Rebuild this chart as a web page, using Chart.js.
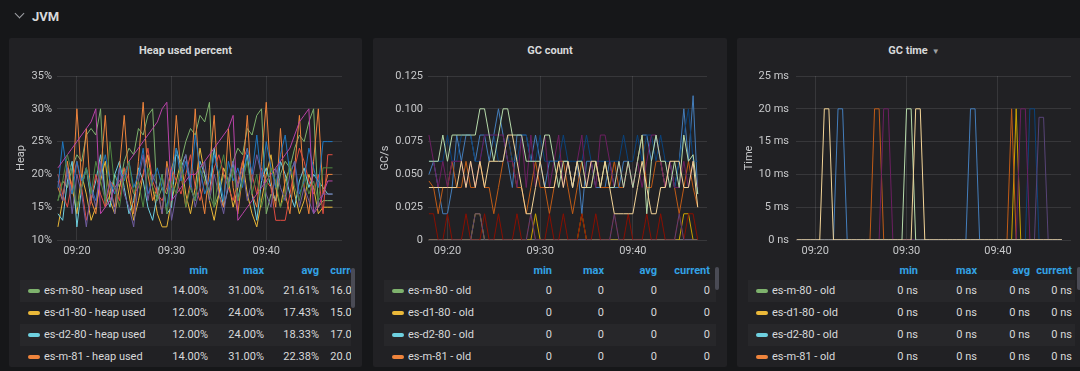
<!DOCTYPE html>
<html>
<head>
<meta charset="utf-8">
<script src="https://cdn.jsdelivr.net/npm/chart.js@4.4.1/dist/chart.umd.min.js"></script>
<style>
  body { margin: 0; width: 1080px; height: 371px; background: #161719; font-family: Roboto, sans-serif; color: #d8d9da; overflow: hidden; position: relative; }
  .chev { position: absolute; left: 16px; top: 10px; width: 6px; height: 6px; border-right: 1.5px solid #9fa1a5; border-bottom: 1.5px solid #9fa1a5; transform: rotate(45deg); }
  .row-title { position: absolute; left: 32px; top: 7px; font-size: 13px; font-weight: bold; line-height: 20px; }
  .panel { position: absolute; top: 38px; height: 329px; background: #212124; overflow: hidden; border-radius: 2px; }
  .ptitle { position: absolute; left: 0; right: 0; top: 1px; text-align: center; font-size: 11px; font-weight: bold; line-height: 24px; }
  .caret { font-size: 8px; color: #9fa1a5; margin-left: 4px; }
  .plot { position: absolute; left: 0; top: 24px; }
  .leg { position: absolute; left: 11px; top: 224px; height: 105px; overflow: hidden; }
  .lrow { position: absolute; left: 0; width: 100%; height: 22px; line-height: 22px; font-size: 11px; }
  .lrow.odd { background: #27272a; }
  .lhead { color: #33a2e5; font-weight: bold; height: 18px; line-height: 18px; }
  .cell { position: absolute; top: 0; left: 0; text-align: right; white-space: nowrap; }
  .sw { position: absolute; left: 8px; top: 9px; width: 12px; height: 4px; border-radius: 2px; }
  .name { position: absolute; left: 24px; top: 0; white-space: nowrap; }
  .sb { position: absolute; width: 4px; border-radius: 2px; background: #4a4b55; }
</style>
</head>
<body>
<div class="chev"></div>
<div class="row-title">JVM</div>

<div class="panel" style="left:9px;width:353px">
  <div class="ptitle">Heap used percent</div>
  <div class="plot"><canvas id="heapChart" width="353" height="200"></canvas></div>
  <div class="leg" id="heapLegend" style="width:331px"></div>
  <div class="sb" style="left:342px;top:230px;height:40px"></div>
</div>

<div class="panel" style="left:373px;width:354px">
  <div class="ptitle">GC count</div>
  <div class="plot"><canvas id="gcCountChart" width="354" height="200"></canvas></div>
  <div class="leg" id="gcCountLegend" style="width:332px"></div>
  <div class="sb" style="left:342px;top:229px;height:23px"></div>
</div>

<div class="panel" style="left:737px;width:354px">
  <div class="ptitle">GC time<span class="caret">&#9660;</span></div>
  <div class="plot"><canvas id="gcTimeChart" width="354" height="200"></canvas></div>
  <div class="leg" id="gcTimeLegend" style="width:327px"></div>
  <div class="sb" style="left:340px;top:229px;height:23px"></div>
</div>

<script>
// 시간축 (09:00 이후 분, 30초 간격)
const times = [
  18, 18.5, 19, 19.5, 20, 20.5, 21, 21.5, 22, 22.5,
  23, 23.5, 24, 24.5, 25, 25.5, 26, 26.5, 27, 27.5,
  28, 28.5, 29, 29.5, 30, 30.5, 31, 31.5, 32, 32.5,
  33, 33.5, 34, 34.5, 35, 35.5, 36, 36.5, 37, 37.5,
  38, 38.5, 39, 39.5, 40, 40.5, 41, 41.5, 42, 42.5,
  43, 43.5, 44, 44.5, 45, 45.5, 46, 46.5, 47
];
const xTickValues = [20, 30, 40];
const xTickLabels = ['09:20', '09:30', '09:40'];

// Heap used percent
const heapM80 = [
  16, 19, 18, 21, 23, 22, 26, 27, 26, 30,
  15, 17, 20, 18, 22, 24, 23, 27, 26, 29,
  30, 16, 18, 17, 21, 23, 22, 25, 27, 26,
  29, 28, 31, 15, 17, 20, 19, 22, 24, 23,
  27, 26, 29, 30, 14, 17, 16, 20, 22, 21,
  24, 26, 25, 28, 30, 15, 16, 16, 16
];
const heapD180 = [
  12, 16, 21, 18, 14, 20, 17, 13, 15, 19,
  22, 16, 14, 18, 21, 17, 13, 16, 20, 23,
  18, 14, 12, 12, 16, 19, 22, 17, 14, 18,
  24, 20, 16, 13, 17, 21, 19, 15, 18, 22,
  17, 14, 12, 16, 20, 23, 18, 15, 19, 21,
  17, 14, 16, 20, 18, 14, 15, 15, 15
];
const heapD280 = [
  14, 13, 19, 22, 12, 18, 21, 16, 19, 23,
  17, 15, 20, 22, 18, 14, 16, 21, 19, 15,
  13, 17, 20, 14, 15, 24, 21, 23, 18, 16,
  22, 20, 17, 24, 19, 15, 18, 22, 16, 20,
  23, 17, 13, 19, 21, 18, 16, 22, 20, 17,
  15, 19, 21, 18, 20, 19, 18, 17, 17
];
const heapM81 = [
  18, 16, 22, 17, 30, 19, 27, 16, 14, 20,
  29, 18, 15, 21, 29, 19, 14, 22, 31, 20,
  16, 18, 14, 22, 18, 29, 20, 15, 19, 30,
  18, 14, 21, 29, 17, 15, 27, 18, 14, 20,
  29, 17, 15, 22, 31, 19, 15, 27, 17, 14,
  21, 29, 18, 14, 22, 30, 17, 20, 20
];
const heapD181 = [
  20, 17, 15, 19, 22, 18, 13, 16, 20, 17,
  15, 19, 18, 16, 21, 19, 17, 18, 20, 24,
  19, 17, 16, 18, 21, 19, 17, 20, 23, 18,
  16, 19, 17, 21, 23, 20, 18, 16, 19, 22,
  24, 20, 17, 21, 19, 18, 13, 13, 13, 17,
  21, 24, 22, 19, 17, 20, 14, 23, 23
];
const heapD281 = [
  18, 25, 20, 17, 22, 19, 21, 18, 16, 20,
  23, 19, 17, 21, 19, 22, 18, 20, 24, 17,
  19, 21, 18, 15, 20, 24, 19, 22, 18, 26,
  21, 17, 19, 23, 20, 16, 22, 19, 21, 18,
  24, 20, 26, 19, 25, 21, 18, 23, 26, 20,
  22, 17, 19, 24, 21, 18, 25, 25, 25
];
const heapM82 = [
  21, 22, 23, 24, 25, 26, 27, 28, 30, 14,
  15, 16, 18, 19, 20, 22, 23, 24, 25, 26,
  27, 28, 30, 31, 16, 17, 18, 19, 20, 20,
  21, 22, 23, 24, 25, 26, 27, 29, 13, 14,
  15, 16, 17, 18, 19, 20, 21, 22, 23, 24,
  26, 28, 29, 30, 14, 15, 17, 19, 19
];
const heapD182 = [
  19, 16, 21, 14, 20, 17, 12, 18, 15, 22,
  16, 19, 14, 21, 17, 15, 12, 19, 23, 16,
  20, 18, 14, 21, 13, 17, 20, 23, 19, 15,
  18, 22, 16, 20, 17, 14, 19, 22, 18, 21,
  16, 19, 23, 20, 17, 15, 21, 18, 16, 20,
  22, 15, 18, 16, 14, 16, 17, 17, 17
];
const heapD282 = [
  16, 19, 23, 20, 15, 18, 21, 17, 22, 19,
  16, 25, 18, 15, 20, 22, 17, 19, 15, 21,
  18, 16, 20, 14, 19, 17, 22, 15, 18, 16,
  21, 19, 17, 15, 20, 23, 18, 21, 16, 19,
  22, 17, 20, 15, 18, 21, 19, 15, 17, 22,
  18, 16, 20, 17, 19, 16, 21, 21, 21
];
const heapTickValues = [10, 15, 20, 25, 30, 35];
const heapTickLabels = ['10%', '15%', '20%', '25%', '30%', '35%'];

// old 세대는 전 구간 0
const oldZero = [
  0, 0, 0, 0, 0, 0, 0, 0, 0, 0,
  0, 0, 0, 0, 0, 0, 0, 0, 0, 0,
  0, 0, 0, 0, 0, 0, 0, 0, 0, 0,
  0, 0, 0, 0, 0, 0, 0, 0, 0, 0,
  0, 0, 0, 0, 0, 0, 0, 0, 0, 0,
  0, 0, 0, 0, 0, 0, 0, 0, 0
];

// GC count (GC/s), young
const countM80 = [
  0, 0, 0, 0, 0, 0, 0, 0, 0, 0,
  0.02, 0.02, 0, 0, 0, 0, 0, 0, 0, 0,
  0, 0, 0, 0.02, 0, 0, 0, 0, 0, 0,
  0, 0, 0, 0.02, 0, 0, 0, 0, 0, 0,
  0, 0, 0, 0, 0, 0, 0, 0, 0, 0,
  0, 0, 0, 0, 0, 0.02, 0.02, 0, 0
];
const countD180 = [
  0.05, 0.06, 0.04, 0.02, 0.02, 0.04, 0.08, 0.06, 0.08, 0.08,
  0.06, 0.08, 0.08, 0.06, 0.08, 0.1, 0.08, 0.06, 0.04, 0.08,
  0.08, 0.08, 0.06, 0.08, 0.06, 0.04, 0.06, 0.06, 0.06, 0.06,
  0.06, 0.04, 0.06, 0.02, 0.06, 0.06, 0.04, 0.04, 0.04, 0.06,
  0.04, 0.04, 0.06, 0.06, 0.04, 0.06, 0.08, 0.08, 0.06, 0.08,
  0.06, 0.04, 0.06, 0.04, 0.06, 0.1, 0.06, 0.11, 0.035
];
const countD280 = [
  0.045, 0.04, 0.02, 0.04, 0.04, 0.06, 0.04, 0.04, 0.06, 0.04,
  0.04, 0.06, 0.04, 0.04, 0.02, 0.04, 0.06, 0.08, 0.06, 0.04,
  0.04, 0.02, 0.04, 0.06, 0.04, 0.04, 0.02, 0.04, 0.06, 0.06,
  0.04, 0.02, 0.04, 0.06, 0.04, 0.04, 0.06, 0.04, 0.04, 0.04,
  0.06, 0.04, 0.04, 0.06, 0.04, 0.06, 0.08, 0.04, 0.04, 0.06,
  0.06, 0.04, 0.06, 0.04, 0.02, 0.04, 0.06, 0.04, 0.025
];
const countM81 = [
  0.02, 0.02, 0, 0, 0.02, 0, 0, 0, 0.02, 0,
  0, 0, 0.02, 0, 0, 0.02, 0, 0, 0, 0.02,
  0, 0, 0.02, 0, 0, 0, 0.02, 0, 0, 0.02,
  0, 0, 0, 0.02, 0, 0, 0.02, 0, 0, 0,
  0.02, 0, 0, 0.02, 0, 0, 0, 0.02, 0, 0,
  0.02, 0, 0, 0, 0.02, 0, 0.02, 0.02, 0
];
const countD181 = [
  0.06, 0.06, 0.06, 0.06, 0.08, 0.06, 0.06, 0.08, 0.08, 0.08,
  0.06, 0.06, 0.08, 0.08, 0.08, 0.06, 0.06, 0.08, 0.06, 0.06,
  0.08, 0.08, 0.06, 0.06, 0.08, 0.06, 0.06, 0.06, 0.06, 0.08,
  0.06, 0.06, 0.06, 0.06, 0.08, 0.06, 0.06, 0.06, 0.06, 0.06,
  0.06, 0.06, 0.08, 0.06, 0.06, 0.08, 0.06, 0.08, 0.08, 0.06,
  0.08, 0.06, 0.06, 0.04, 0.06, 0.08, 0.1, 0.06, 0.06
];
const countD281 = [
  0.08, 0.06, 0.04, 0.06, 0.04, 0.06, 0.06, 0.06, 0.04, 0.06,
  0.04, 0.06, 0.08, 0.08, 0.08, 0.08, 0.08, 0.06, 0.06, 0.04,
  0.08, 0.04, 0.08, 0.04, 0.06, 0.08, 0.04, 0.06, 0.08, 0.04,
  0.06, 0.04, 0.06, 0.08, 0.04, 0.06, 0.04, 0.08, 0.08, 0.06,
  0.04, 0.06, 0.04, 0.06, 0.04, 0.06, 0.04, 0.06, 0.08, 0.08,
  0.06, 0.04, 0.06, 0.04, 0.04, 0.06, 0.04, 0.06, 0.04
];
const countM82 = [
  0, 0, 0, 0, 0, 0, 0, 0, 0, 0,
  0.02, 0.02, 0, 0, 0, 0, 0, 0, 0, 0,
  0, 0, 0.02, 0, 0, 0, 0, 0, 0, 0,
  0, 0, 0, 0, 0, 0, 0, 0, 0, 0,
  0.02, 0, 0, 0, 0, 0, 0, 0, 0, 0,
  0, 0, 0, 0, 0.02, 0, 0, 0, 0
];
const countD182 = [
  0.06, 0.06, 0.06, 0.08, 0.06, 0.08, 0.08, 0.08, 0.08, 0.08,
  0.08, 0.1, 0.1, 0.08, 0.06, 0.08, 0.1, 0.1, 0.08, 0.08,
  0.08, 0.06, 0.06, 0.06, 0.06, 0.08, 0.08, 0.06, 0.04, 0.06,
  0.06, 0.04, 0.06, 0.06, 0.04, 0.04, 0.06, 0.04, 0.06, 0.04,
  0.04, 0.06, 0.04, 0.06, 0.04, 0.06, 0.08, 0.02, 0.06, 0.08,
  0.06, 0.06, 0.04, 0.06, 0.04, 0.08, 0.06, 0.065, 0.035
];
const countD282 = [
  0.04, 0.04, 0.04, 0.04, 0.04, 0.04, 0.04, 0.06, 0.04, 0.06,
  0.04, 0.06, 0.04, 0.06, 0.06, 0.06, 0.06, 0.08, 0.08, 0.06,
  0.04, 0.02, 0.02, 0.04, 0.06, 0.04, 0.04, 0.04, 0.06, 0.04,
  0.06, 0.04, 0.06, 0.04, 0.04, 0.06, 0.06, 0.04, 0.06, 0.04,
  0.02, 0.02, 0.02, 0.02, 0.02, 0.04, 0.06, 0.04, 0.02, 0.02,
  0.04, 0.04, 0.06, 0.06, 0.06, 0.04, 0.04, 0.06, 0.025
];
const countTickValues = [0, 0.025, 0.05, 0.075, 0.1, 0.125];
const countTickLabels = ['0', '0.025', '0.050', '0.075', '0.100', '0.125'];

// GC time (ms), young
const timeM80 = [
  0, 0, 0, 0, 0, 0, 0, 0, 0, 0,
  0, 0, 0, 0, 0, 0, 0, 0, 0, 0,
  0, 0, 0, 0, 0, 0, 0, 0, 0, 0,
  0, 0, 0, 0, 0, 0, 0, 0, 0, 0,
  0, 0, 0, 0, 0, 0, 0, 0, 20, 0,
  0, 0, 0, 0, 0, 0, 0, 0, 0
];
const timeD180 = [
  0, 0, 0, 0, 0, 0, 0, 0, 0, 20,
  20, 0, 0, 0, 0, 0, 0, 0, 0, 0,
  0, 0, 0, 0, 0, 0, 0, 0, 0, 0,
  0, 0, 0, 0, 0, 0, 0, 0, 20, 20,
  0, 0, 0, 0, 0, 0, 0, 0, 0, 0,
  0, 0, 0, 0, 0, 0, 0, 0, 0
];
const timeD280 = [
  0, 0, 0, 0, 0, 0, 0, 0, 0, 0,
  0, 0, 0, 0, 0, 0, 0, 20, 20, 0,
  0, 0, 0, 0, 0, 0, 0, 0, 0, 0,
  0, 0, 0, 0, 0, 0, 0, 0, 0, 0,
  0, 0, 0, 0, 0, 0, 0, 20, 0, 0,
  0, 0, 0, 0, 0, 0, 0, 0, 0
];
const timeM81 = oldZero;
const timeD181 = [
  0, 0, 0, 0, 0, 0, 0, 0, 0, 0,
  0, 0, 0, 0, 0, 0, 0, 0, 0, 0,
  0, 0, 0, 0, 0, 0, 0, 0, 0, 0,
  0, 0, 0, 0, 0, 0, 0, 0, 0, 0,
  0, 0, 0, 0, 0, 0, 0, 0, 0, 0,
  0, 20, 20, 0, 0, 0, 0, 0, 0
];
const timeD281 = [
  0, 0, 0, 0, 0, 0, 0, 0, 0, 0,
  0, 0, 0, 0, 0, 0, 0, 0, 0, 20,
  20, 0, 0, 0, 0, 0, 0, 0, 0, 0,
  0, 0, 0, 0, 0, 0, 0, 0, 0, 0,
  0, 0, 0, 0, 0, 0, 0, 0, 0, 20,
  20, 0, 0, 0, 0, 0, 0, 0, 0
];
const timeM82 = [
  0, 0, 0, 0, 0, 0, 0, 0, 0, 0,
  0, 0, 0, 0, 0, 0, 0, 0, 0, 0,
  0, 0, 0, 0, 0, 0, 0, 0, 0, 0,
  0, 0, 0, 0, 0, 0, 0, 0, 0, 0,
  0, 0, 0, 0, 0, 0, 0, 0, 0, 0,
  0, 0, 0, 18.7, 18.7, 0, 0, 0, 0
];
const timeD182 = [
  0, 0, 0, 0, 0, 0, 0, 0, 0, 0,
  0, 0, 0, 0, 0, 0, 0, 0, 0, 0,
  0, 0, 0, 0, 20, 20, 0, 0, 0, 0,
  0, 0, 0, 0, 0, 0, 0, 0, 0, 0,
  0, 0, 0, 0, 0, 0, 0, 0, 0, 0,
  0, 0, 0, 0, 0, 0, 0, 0, 0
];
const timeD282 = [
  0, 0, 0, 0, 0, 0, 20, 20, 0, 0,
  0, 0, 0, 0, 0, 0, 0, 0, 0, 0,
  0, 0, 0, 0, 0, 0, 20, 20, 0, 0,
  0, 0, 0, 0, 0, 0, 0, 0, 0, 0,
  0, 0, 0, 0, 0, 0, 0, 0, 0, 0,
  0, 0, 0, 0, 0, 0, 0, 0, 0
];
const timeTickValues = [0, 5, 10, 15, 20, 25];
const timeTickLabels = ['0 ns', '5 ms', '10 ms', '15 ms', '20 ms', '25 ms'];

// 범례 테이블 (보이는 4행)
const legendNodes = ['es-m-80', 'es-d1-80', 'es-d2-80', 'es-m-81'];
const heapMin = ['14.00%', '12.00%', '12.00%', '14.00%'];
const heapMax = ['31.00%', '24.00%', '24.00%', '31.00%'];
const heapAvg = ['21.61%', '17.43%', '18.33%', '22.38%'];
const heapCur = ['16.00%', '15.00%', '17.00%', '20.00%'];
const countStat = ['0', '0', '0', '0'];
const timeStat = ['0 ns', '0 ns', '0 ns', '0 ns'];

// Grafana 기본 팔레트
const palette = ['#7EB26D', '#EAB839', '#6ED0E0', '#EF843C', '#E24D42', '#1F78C1', '#BA43A9', '#705DA0', '#508642',
                 '#CCA300', '#447EBC', '#C15C17', '#890F02', '#0A437C', '#6D1F62', '#584477', '#B7DBAB', '#F4D598'];

const tickColor = '#c7c8ca';
const gridColor = 'rgba(255,255,255,0.1)';
Chart.defaults.font.family = 'Roboto, sans-serif';

function buildDatasets(seriesList) {
    return seriesList.map((values, i) => ({
        data: values,
        borderColor: palette[i],
        borderWidth: 1,
        pointRadius: 0,
        fill: false,
        tension: 0,
        order: -i   // 뒤 시리즈가 위에 그려지도록
    }));
}

function renderChart(canvasId, seriesList, yOpts) {
    const ctx = document.getElementById(canvasId).getContext('2d');
    return new Chart(ctx, {
        type: 'line',
        data: { labels: times, datasets: buildDatasets(seriesList) },
        options: {
            responsive: false,
            animation: false,
            layout: { padding: { top: 14, right: 20, bottom: 0, left: 0 } },
            plugins: { legend: { display: false }, tooltip: { enabled: false } },
            scales: {
                x: {
                    type: 'linear',
                    min: 17.9,
                    max: 48,
                    afterBuildTicks: s => { s.ticks = xTickValues.map(v => ({ value: v })); },
                    afterFit: s => { s.height = 22; },
                    ticks: {
                        color: tickColor, font: { size: 11 }, padding: 5, maxRotation: 0,
                        callback: (v, i) => xTickLabels[i]
                    },
                    grid: { color: gridColor, drawTicks: false },
                    border: { display: false }
                },
                y: {
                    min: yOpts.ticks[0],
                    max: yOpts.ticks[yOpts.ticks.length - 1],
                    afterBuildTicks: s => { s.ticks = yOpts.ticks.map(v => ({ value: v })); },
                    afterFit: s => { s.width = yOpts.width; },
                    ticks: {
                        color: tickColor, font: { size: 11 }, padding: yOpts.pad,
                        callback: (v, i) => yOpts.labels[i]
                    },
                    grid: { color: gridColor, drawTicks: false },
                    border: { display: false },
                    title: { display: true, text: yOpts.title, color: tickColor, font: { size: 11 }, padding: { top: 6, bottom: 0 } }
                }
            }
        }
    });
}

function renderLegend(elId, names, cols, colRights) {
    const el = document.getElementById(elId);
    const heads = ['min', 'max', 'avg', 'current'];
    let html = '<div class="lrow lhead" style="top:0">';
    heads.forEach((h, c) => { html += `<div class="cell" style="width:${colRights[c]}px">${h}</div>`; });
    html += '</div>';
    names.forEach((name, r) => {
        html += `<div class="lrow${r % 2 === 0 ? ' odd' : ''}" style="top:${18 + r * 22}px">`;
        html += `<div class="sw" style="background:${palette[r]}"></div><div class="name">${name}</div>`;
        cols.forEach((col, c) => { html += `<div class="cell" style="width:${colRights[c]}px">${col[r]}</div>`; });
        html += '</div>';
    });
    el.innerHTML = html;
}

renderChart('heapChart',
    [heapM80, heapD180, heapD280, heapM81, heapD181, heapD281, heapM82, heapD182, heapD282],
    { ticks: heapTickValues, labels: heapTickLabels, title: 'Heap', width: 48, pad: 5 });

renderChart('gcCountChart',
    [oldZero, oldZero, oldZero, oldZero, oldZero, oldZero, oldZero, oldZero, oldZero,
     countM80, countD180, countD280, countM81, countD181, countD281, countM82, countD182, countD282],
    { ticks: countTickValues, labels: countTickLabels, title: 'GC/s', width: 55, pad: 5 });

renderChart('gcTimeChart',
    [oldZero, oldZero, oldZero, oldZero, oldZero, oldZero, oldZero, oldZero, oldZero,
     timeM80, timeD180, timeD280, timeM81, timeD181, timeD281, timeM82, timeD182, timeD282],
    { ticks: timeTickValues, labels: timeTickLabels, title: 'Time', width: 59, pad: 7 });

renderLegend('heapLegend', legendNodes.map(n => n + ' - heap used'), [heapMin, heapMax, heapAvg, heapCur], [188, 244, 299, 346]);
renderLegend('gcCountLegend', legendNodes.map(n => n + ' - old'), [countStat, countStat, countStat, countStat], [168, 220, 273, 326]);
renderLegend('gcTimeLegend', legendNodes.map(n => n + ' - old'), [timeStat, timeStat, timeStat, timeStat], [170, 229, 282, 324]);
</script>
</body>
</html>
